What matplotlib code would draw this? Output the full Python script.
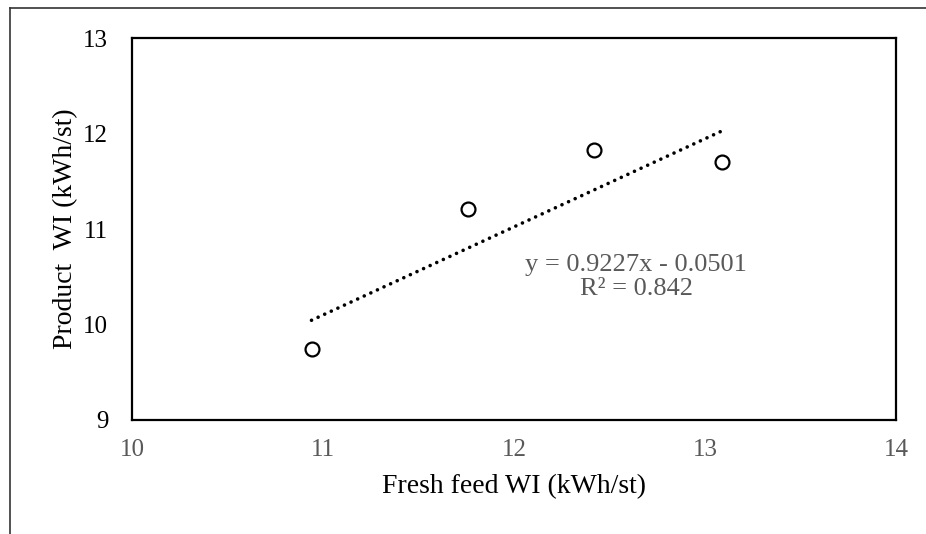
import matplotlib
matplotlib.use('Agg')
import matplotlib.pyplot as plt
from matplotlib.lines import Line2D
import numpy as np

# data
fresh_feed_wi = [10.94, 11.76, 12.42, 13.09]
product_wi = [9.74, 11.21, 11.83, 11.70]
slope, intercept = 0.9227, -0.0501
r_squared = 0.842

x_ticks = [10, 11, 12, 13, 14]
y_ticks = [9, 10, 11, 12, 13]

plt.rcParams['font.family'] = ['Liberation Serif', 'DejaVu Serif']

fig = plt.figure(figsize=(9.26, 5.34), dpi=100)
ax = fig.add_axes([0.1425, 0.2135, 0.8251, 0.7153])

# trendline over the data range
xs = np.array([min(fresh_feed_wi), max(fresh_feed_wi)])
ax.plot(xs, slope * xs + intercept, color='black', linewidth=2.6,
        linestyle=(0, (0.01, 2.0)), dash_capstyle='round')

ax.plot(fresh_feed_wi, product_wi, linestyle='none', marker='o',
        markersize=10, markerfacecolor='white', markeredgecolor='black',
        markeredgewidth=1.6)

ax.text(12.64, 10.50, f"y = {slope}x - {abs(intercept)}\nR² = {r_squared}",
        ha='center', va='center', fontsize=19, color='#595959',
        linespacing=1.12)

ax.set_xlim(10, 14)
ax.set_ylim(9, 13)
ax.set_xticks(x_ticks)
ax.set_yticks(y_ticks)
ax.tick_params(length=0, labelsize=18)
ax.tick_params(axis='x', colors='#595959', pad=14)
ax.tick_params(axis='y', labelcolor='black', pad=17)
for s in ax.spines.values():
    s.set_linewidth(1.6)
    s.set_color('black')

ax.set_xlabel("Fresh feed WI (kWh/st)", fontsize=20, labelpad=9)
ax.set_ylabel("Product  WI (kWh/st)", fontsize=20, labelpad=4)

# partial frame around the figure
fig.add_artist(Line2D([10 / 926, 10 / 926], [0, 1 - 8 / 534], color='#333333', linewidth=1.2))
fig.add_artist(Line2D([10 / 926, 1], [1 - 8 / 534, 1 - 8 / 534], color='#333333', linewidth=1.2))

fig.savefig('out.png', dpi=100)
